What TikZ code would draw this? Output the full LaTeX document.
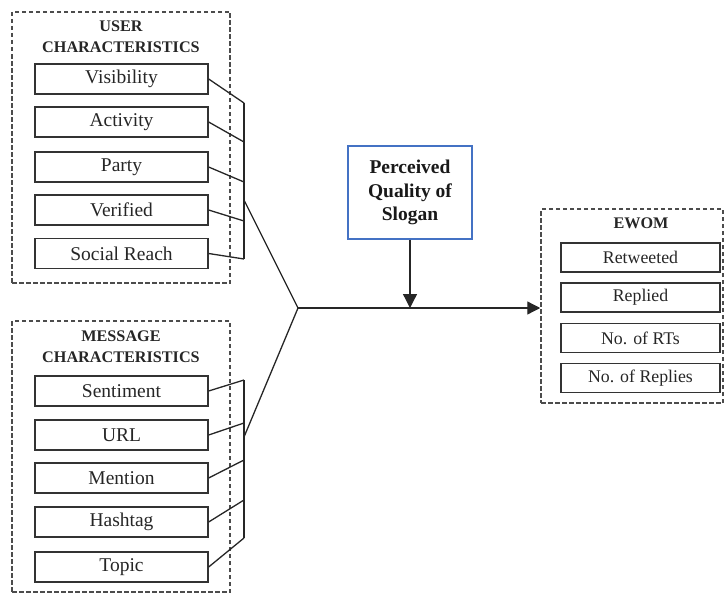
\documentclass[tikz,border=0pt]{standalone}
\usepackage{fontspec}
\setmainfont{Liberation Serif}
\usetikzlibrary{arrows.meta}
\begin{document}
\begin{tikzpicture}[x=1pt,y=-1pt,
 item/.style={draw=black!80, line width=1.3pt, minimum width=173pt, minimum height=30pt, inner sep=0pt, font=\fontsize{19.5}{22}\selectfont, text=black!85},
 eitem/.style={item, minimum width=159pt, minimum height=29pt, font=\fontsize{17.8}{20}\selectfont},
 frame/.style={draw=black!70, line width=1.5pt, dash pattern=on 4.5pt off 2.5pt, inner sep=0pt},
 ttl/.style={font=\bfseries\fontsize{16.2}{21}\selectfont, align=center, text=black!85},
 conn/.style={line width=1.3pt, draw=black!85},
 tip/.style={-{Triangle[length=13pt,width=13pt]}},
 dtip/.style={-{Triangle[length=14pt,width=14pt]}}
]
\useasboundingbox (0,0) rectangle (725,594);

% frames
\node[frame, minimum width=218pt, minimum height=271pt] (uf) at (121,147.5) {};
\node[frame, minimum width=218pt, minimum height=271pt] (mf) at (121,456.5) {};
\node[frame, minimum width=182pt, minimum height=194pt] (ef) at (632,306) {};

% titles
\node[ttl] (ut) at (121,36.5) {USER\\CHARACTERISTICS};
\node[ttl] (mt) at (121,347) {MESSAGE\\CHARACTERISTICS};
\node[ttl] (et) at (641,223) {EWOM};

% user items
\node[item] (u1) at (121.5,79) {Visibility};
\node[item] (u2) at (121.5,122) {Activity};
\node[item] (u3) at (121.5,167) {Party};
\node[item] (u4) at (121.5,210) {Verified};
\node[item] (u5) at (121.5,253.5) {Social Reach};

% message items
\node[item] (m1) at (121.5,391) {Sentiment};
\node[item] (m2) at (121.5,435) {URL};
\node[item] (m3) at (121.5,478) {Mention};
\node[item] (m4) at (121.5,522) {Hashtag};
\node[item] (m5) at (121.5,567) {Topic};

% ewom items
\node[eitem] (e1) at (640.5,257.5) {Retweeted};
\node[eitem] (e2) at (640.5,297.5) {Replied};
\node[eitem] (e3) at (640.5,338) {No. of RTs};
\node[eitem] (e4) at (640.5,378) {No. of Replies};

% slogan
\node[draw={rgb,255:red,68;green,114;blue,196}, line width=1.2pt, minimum width=124pt, minimum height=93pt, inner sep=0pt, align=center, font=\bfseries\fontsize{19.5}{23.5}\selectfont, text=black!90] (slo) at (410,192.5) {Perceived\\Quality of\\Slogan};

% bracket coordinates
\coordinate (ub1) at (244,103);
\coordinate (ub2) at (244,142);
\coordinate (ub3) at (244,182);
\coordinate (ub4) at (244,221);
\coordinate (ub5) at (244,259);
\coordinate (uo) at (244,200);
\coordinate (mb1) at (244,380);
\coordinate (mb2) at (244,423);
\coordinate (mb3) at (244,460);
\coordinate (mb4) at (244,500);
\coordinate (mb5) at (244,538);
\coordinate (mo) at (244,437);
\coordinate (j) at (298,308);
\coordinate (k) at (410,308);

% user bracket
\draw[conn] (u1.east) -- (ub1);
\draw[conn] (u2.east) -- (ub2);
\draw[conn] (u3.east) -- (ub3);
\draw[conn] (u4.east) -- (ub4);
\draw[conn] (u5.east) -- (ub5);
\draw[conn] (ub1) -- (ub5);

% message bracket
\draw[conn] (m1.east) -- (mb1);
\draw[conn] (m2.east) -- (mb2);
\draw[conn] (m3.east) -- (mb3);
\draw[conn] (m4.east) -- (mb4);
\draw[conn] (m5.east) -- (mb5);
\draw[conn] (mb1) -- (mb5);

% junction
\draw[conn] (uo) -- (j) -- (mo);
\draw[conn, tip] (j) -- (ef.west |- j);
\draw[conn, dtip] (slo.south) -- (k);

\end{tikzpicture}
\end{document}
